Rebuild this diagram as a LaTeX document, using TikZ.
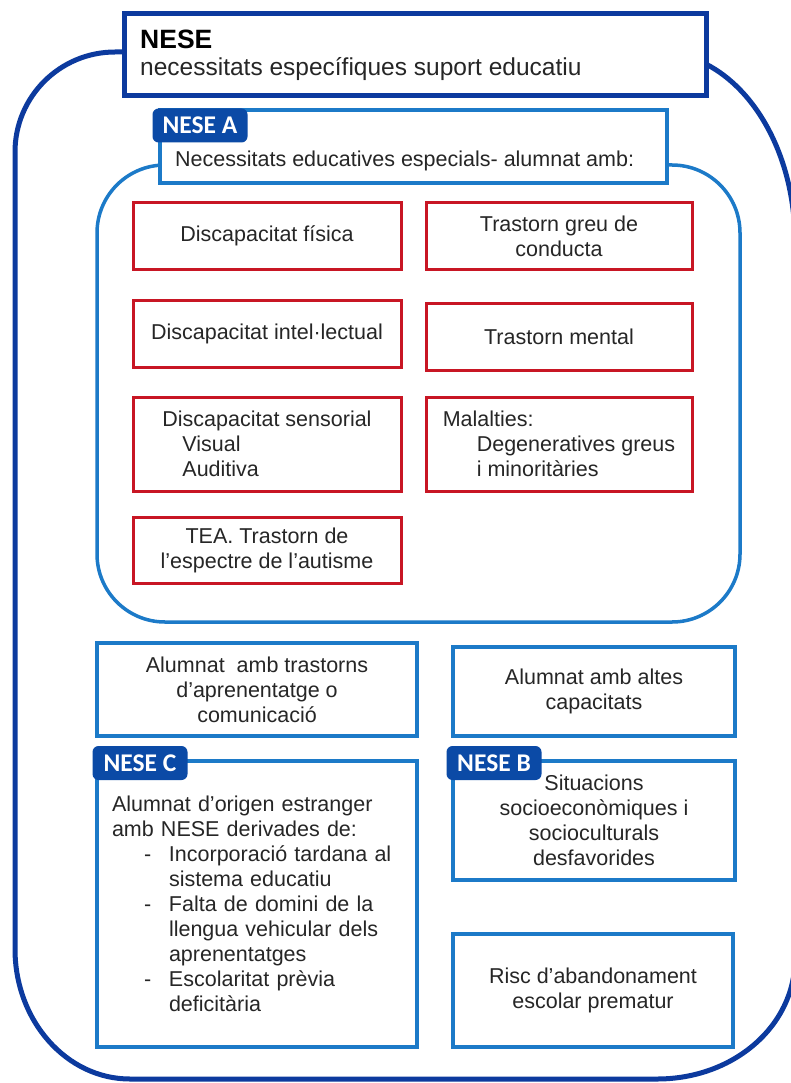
\documentclass[tikz,border=0pt]{standalone}
\usepackage{fontspec}
\setmainfont{Liberation Sans}
\newfontfamily\lblfont{Carlito}
\definecolor{dkblue}{RGB}{12,58,158}
\definecolor{lblue}{RGB}{28,122,200}
\definecolor{boxred}{RGB}{200,22,36}
\definecolor{lblfill}{RGB}{11,74,166}
\definecolor{txt}{RGB}{38,38,38}
\newcommand{\nsitem}{\hspace*{32pt}\makebox[25pt][l]{-}}
\newcommand{\nscont}{\hspace*{57pt}}
\tikzset{
  body/.style={font=\fontsize{21.5}{25}\selectfont, text=txt},
  redbox/.style={draw=boxred, line width=3pt, fill=white, body, align=center, inner sep=0pt},
  bluebox/.style={draw=lblue, line width=3.5pt, fill=white, body, align=center, inner sep=0pt},
  nlabel/.style={fill=lblfill, rounded corners=6pt, text=white, font=\lblfont\bfseries\fontsize{25.5}{28}\selectfont, minimum width=95pt, minimum height=34pt, inner sep=0pt},
}
\begin{document}
\begin{tikzpicture}[x=1pt,y=-1pt]
\useasboundingbox (0,0) rectangle (791,1083);
\fill[white] (0,0) rectangle (791,1083);
% outer frame
\draw[dkblue, line width=5pt]
  (15,152) .. controls (15,96.8) and (59.8,52) .. (115,52)
  -- (657,52) .. controls (734.3,52) and (795,137.1) .. (795,242)
  -- (795,959) .. controls (795,1025.3) and (734.3,1079) .. (657,1079)
  -- (130,1079) .. controls (66.5,1079) and (15,1020.8) .. (15,949)
  -- cycle;
% title
\node[draw=dkblue, line width=5pt, fill=white, minimum width=582pt, minimum height=82pt, inner sep=0pt] (title) at (415,55) {};
\node[anchor=base west, inner sep=0pt, text=black, font=\bfseries\fontsize{26.5}{30}\selectfont] (nese) at (140,49) {NESE};
\node[anchor=base west, inner sep=0pt, text=txt, font=\fontsize{24.5}{28}\selectfont] (nesesub) at (140,76) {necessitats específiques suport educatiu};
% NESE A group
\draw[lblue, line width=3.5pt, rounded corners=68pt] (97,165) rectangle (740,622);
\node[draw=lblue, line width=3.5pt, fill=white, minimum width=507pt, minimum height=73pt, inner sep=0pt] (neseabox) at (413.5,146.5) {};
\node[body, anchor=base west, inner sep=0pt] (neseatext) at (175,167) {Necessitats educatives especials- alumnat amb:};
\node[nlabel] (nesealbl) at (200,125.5) {NESE A};
\node[redbox, minimum width=268pt, minimum height=66pt] (fisica) at (267,236) {Discapacitat física};
\node[redbox, minimum width=266pt, minimum height=66pt] (conducta) at (559,236) {Trastorn greu de\\conducta};
\node[redbox, minimum width=268pt, minimum height=67pt] (intel) at (267,333.5) {Discapacitat intel·lectual};
\node[redbox, minimum width=266pt, minimum height=67pt] (mental) at (559,336.5) {Trastorn mental};
\node[redbox, minimum width=268pt, minimum height=94pt, align=left] (sensorial) at (267,444) {Discapacitat sensorial\\\hspace*{20pt}Visual\\\hspace*{20pt}Auditiva};
\node[redbox, minimum width=266pt, minimum height=94pt, align=left] (malalties) at (559,444) {Malalties:\\\hspace*{34pt}Degeneratives greus\\\hspace*{34pt}i minoritàries};
\node[redbox, minimum width=268pt, minimum height=66pt] (tea) at (267,550) {TEA. Trastorn de\\l’espectre de l’autisme};
% lower boxes
\node[bluebox, minimum width=320pt, minimum height=93pt] (aprenentatge) at (257,689.5) {Alumnat~ amb trastorns\\d’aprenentatge o\\comunicació};
\node[bluebox, minimum width=282pt, minimum height=89pt] (altes) at (594,691.5) {Alumnat amb altes\\capacitats};
\node[bluebox, minimum width=320pt, minimum height=286pt, align=left, text width=290pt, inner xsep=15pt] (nesec) at (257,904) {Alumnat d’origen estranger\\amb NESE derivades de:\\\nsitem Incorporació tardana al\\\nscont sistema educatiu\\\nsitem Falta de domini de la\\\nscont llengua vehicular dels\\\nscont aprenentatges\\\nsitem Escolaritat prèvia\\\nscont deficitària};
\node[bluebox, minimum width=282pt, minimum height=119pt] (neseb) at (594,820.5) {Situacions\\socioeconòmiques i\\socioculturals\\desfavorides};
\node[bluebox, minimum width=280pt, minimum height=113pt] (risc) at (593,990.5) {Risc d’abandonament\\escolar prematur};
\node[nlabel] (neseclbl) at (140,763) {NESE C};
\node[nlabel] (nesebbl) at (494,763) {NESE B};
\end{tikzpicture}
\end{document}
